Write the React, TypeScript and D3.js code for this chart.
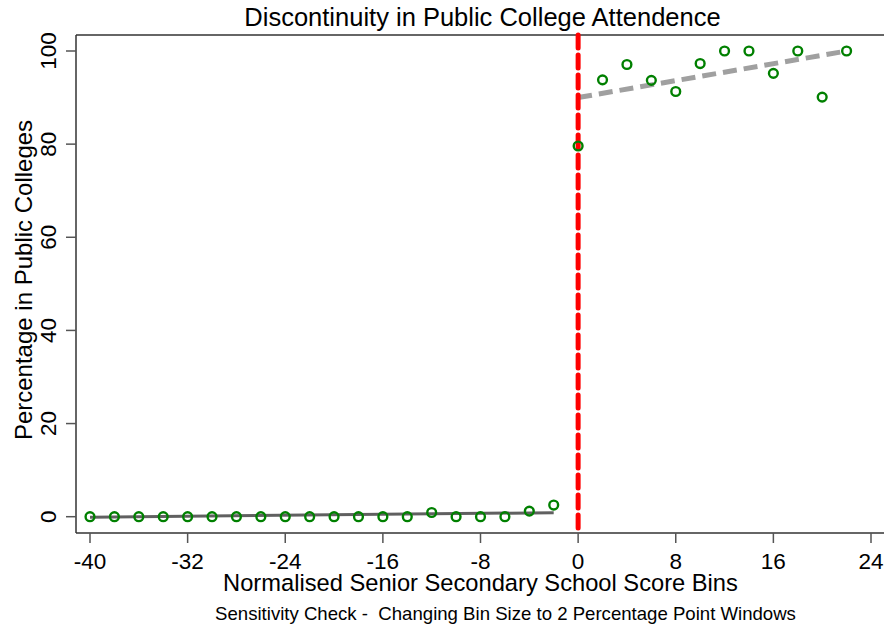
import React from "react";
import * as d3 from "d3";

const leftBins = [-40, -38, -36, -34, -32, -30, -28, -26, -24, -22, -20, -18, -16, -14, -12, -10, -8, -6, -4, -2];
const leftValues = [0, 0, 0, 0, 0, 0, 0, 0, 0, 0, 0, 0, 0, 0, 0.9, 0, 0, 0, 1.2, 2.5];
const rightBins = [0, 2, 4, 6, 8, 10, 12, 14, 16, 18, 20, 22];
const rightValues = [79.6, 93.8, 97.1, 93.7, 91.3, 97.3, 100, 100, 95.2, 100, 90.1, 100];
const leftFit = [[-40, -0.1], [-2, 0.86]];
const rightFit = [[0, 90], [22, 100]];
const xTicks = [-40, -32, -24, -16, -8, 0, 8, 16, 24];
const yTicks = [0, 20, 40, 60, 80, 100];

const W = 884, H = 628;
const FONT = "Arial, 'Liberation Sans', Helvetica, sans-serif";

export default function App() {
  const x = d3.scaleLinear().domain([-40, 24]).range([90, 871]);
  const y = d3.scaleLinear().domain([0, 100]).range([516.7, 51]);
  const frameL = 76, frameT = 35, frameB = 533;
  const line = d3.line<number[]>().x(d => x(d[0])).y(d => y(d[1]));
  const pts = [
    ...leftBins.map((b, i) => [b, leftValues[i]]),
    ...rightBins.map((b, i) => [b, rightValues[i]]),
  ];
  return (
    <svg width={W} height={H} style={{ position: "absolute", left: 0, top: 0, background: "#fff" }} fontFamily={FONT}>
      <rect x={0} y={0} width={W} height={H} fill="#fff" />
      {/* frame */}
      <line x1={frameL} x2={W} y1={frameT} y2={frameT} stroke="#333" strokeWidth={1.5} />
      <line x1={frameL} x2={W} y1={frameB} y2={frameB} stroke="#333" strokeWidth={1.5} />
      <line x1={frameL} x2={frameL} y1={frameT} y2={frameB} stroke="#333" strokeWidth={1.5} />
      {/* y ticks */}
      {yTicks.map(t => (
        <g key={"y" + t}>
          <line x1={frameL - 10} x2={frameL} y1={y(t)} y2={y(t)} stroke="#555" strokeWidth={1.5} />
          <text transform={`translate(56,${y(t)}) rotate(-90)`} textAnchor="middle" fontSize={22.5} fill="#000">{t}</text>
        </g>
      ))}
      {/* x ticks */}
      {xTicks.map(t => (
        <g key={"x" + t}>
          <line x1={x(t)} x2={x(t)} y1={frameB} y2={frameB + 10} stroke="#555" strokeWidth={1.5} />
          <text x={x(t)} y={569} textAnchor="middle" fontSize={22.5} fill="#000">{t}</text>
        </g>
      ))}
      {/* fit lines */}
      <path d={line(leftFit as number[][]) || ""} stroke="#606060" strokeWidth={3} fill="none" />
      <path d={line(rightFit as number[][]) || ""} stroke="#a0a0a0" strokeWidth={5} fill="none" strokeDasharray="14 7" />
      {/* cutoff */}
      <line x1={x(0)} x2={x(0)} y1={frameT} y2={frameB} stroke="#ff0000" strokeWidth={5} strokeDasharray="13 7" strokeLinecap="round" />
      {/* points */}
      {pts.map((p, i) => (
        <circle key={i} cx={x(p[0])} cy={y(p[1])} r={4.4} fill="none" stroke="#008000" strokeWidth={2.4} />
      ))}
      {/* titles */}
      <text x={482.5} y={26} textAnchor="middle" fontSize={25.5} fill="#000">Discontinuity in Public College Attendence</text>
      <text x={480.5} y={591} textAnchor="middle" fontSize={23.7} fill="#000">Normalised Senior Secondary School Score Bins</text>
      <text x={505.5} y={620} textAnchor="middle" fontSize={18.6} fill="#000" style={{ whiteSpace: "pre" }}>Sensitivity Check -  Changing Bin Size to 2 Percentage Point Windows</text>
      <text transform={`translate(32,280) rotate(-90)`} textAnchor="middle" fontSize={24} fill="#000">Percentage in Public Colleges</text>
    </svg>
  );
}
